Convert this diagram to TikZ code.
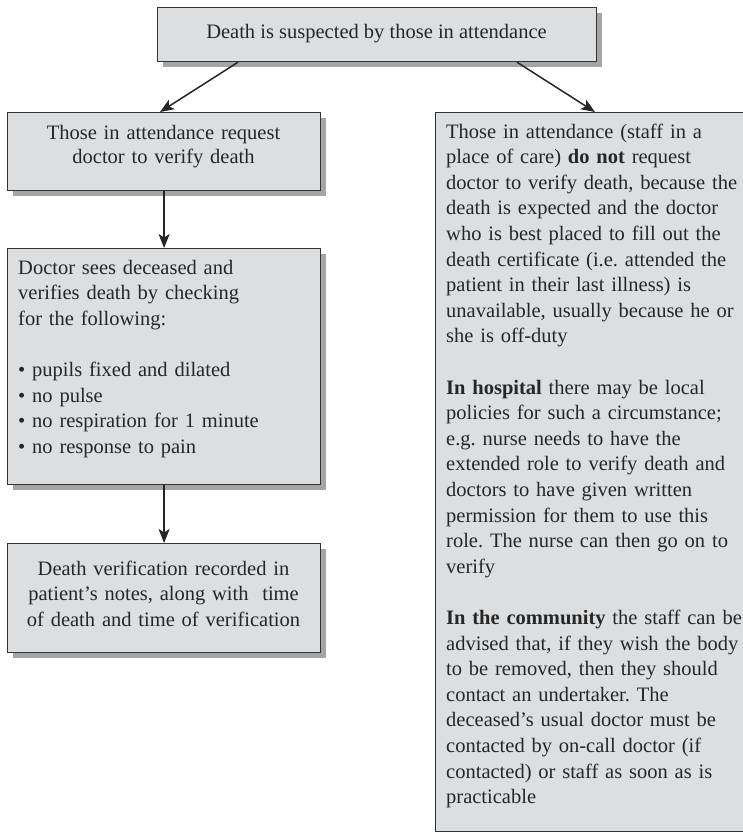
\documentclass[tikz,border=0pt]{standalone}
\usepackage{fontspec}
\setmainfont{Liberation Serif}
\usetikzlibrary{arrows.meta,shadows}
\definecolor{boxfill}{RGB}{221,222,224}
\definecolor{boxline}{RGB}{50,50,50}
\definecolor{shadowc}{RGB}{165,165,167}
\frenchspacing
\begin{document}
\begin{tikzpicture}[x=1bp,y=-1bp,
  box/.style={draw=boxline, line width=1.2bp, fill=boxfill, inner sep=0pt, anchor=north west,
    drop shadow={shadow xshift=5bp,shadow yshift=-5bp,fill=shadowc,opacity=1}},
  txt/.style={inner sep=0pt, text=black!85, font=\fontsize{20.5bp}{25.6bp}\selectfont},
  arr/.style={draw=black!85, line width=1.5bp, -{Stealth[length=14bp,width=11bp,inset=3.5bp]}}]
\fill[white] (0,0) rectangle (743,832);
\useasboundingbox (0,0) rectangle (743,832);
% boxes
\node[box, minimum width=439bp, minimum height=54bp] (top) at (157,7) {};
\node[box, minimum width=313bp, minimum height=78bp] (b1) at (7,112) {};
\node[box, minimum width=313bp, minimum height=236bp] (b2) at (7,248) {};
\node[box, minimum width=313bp, minimum height=109bp] (b3) at (7,543) {};
\node[box, minimum width=400bp, minimum height=719bp] (rb) at (435,112) {};
% texts
\node[txt, anchor=base] (ttop) at (376.5,38) {Death is suspected by those in attendance};
\node[txt, anchor=base, text width=300bp, align=center, font=\fontsize{20.5bp}{24.5bp}\selectfont] (tb1) at (163.5,139)
  {Those in attendance request\\doctor to verify death};
\node[txt, anchor=base west, text width=300bp, align=left] (tb2) at (18,274)
  {Doctor sees deceased and\\verifies death by checking\\for the following:\\[25.6bp]
   \textbullet{} pupils fixed and dilated\\\textbullet{} no pulse\\
   \textbullet{} no respiration for 1 minute\\\textbullet{} no response to pain};
\node[txt, anchor=base, text width=300bp, align=center] (tb3) at (163.5,575)
  {Death verification recorded in\\patient’s notes, along with\ \ time\\of death and time of verification};
\node[txt, anchor=base west, text width=330bp, align=left] (tr) at (446,138)
  {Those in attendance (staff in a\\place of care) \textbf{do not} request\\
   doctor to verify death, because the\\death is expected and the doctor\\
   who is best placed to fill out the\\death certificate (i.e. attended the\\
   patient in their last illness) is\\unavailable, usually because he or\\she is off-duty\\[25.6bp]
   \textbf{In hospital} there may be local\\policies for such a circumstance;\\
   e.g. nurse needs to have the\\extended role to verify death and\\
   doctors to have given written\\permission for them to use this\\
   role. The nurse can then go on to\\verify\\[25.6bp]
   \textbf{In the community} the staff can be\\advised that, if they wish the body\\
   to be removed, then they should\\contact an undertaker. The\\
   deceased’s usual doctor must be\\contacted by on-call doctor (if\\
   contacted) or staff as soon as is\\practicable};
% connectors
\draw[arr] ([xshift=81bp]top.south west) -- ([xshift=153bp]b1.north west);
\draw[arr] ([xshift=360bp]top.south west) -- ([xshift=160bp]rb.north west);
\draw[arr] (b1.south) -- (b2.north);
\draw[arr] (b2.south) -- (b3.north);
\end{tikzpicture}
\end{document}
